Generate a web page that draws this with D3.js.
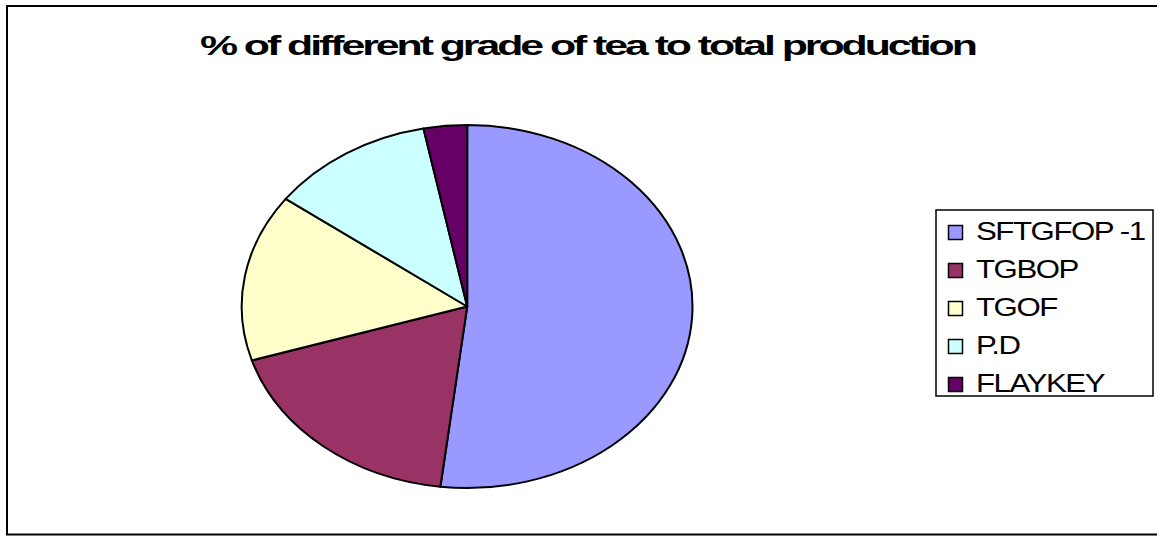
<!DOCTYPE html>
<html>
<head>
<meta charset="utf-8">
<script src="https://cdn.jsdelivr.net/npm/d3@7"></script>
<style>
  html, body { margin: 0; padding: 0; background: #fff; }
  svg { display: block; }
  text { font-family: Arial, "Liberation Sans", sans-serif; }
</style>
</head>
<body>
<svg id="chart" width="1157" height="536"></svg>
<script>
// Share of each tea grade in total production (%)
const grades = ["SFTGFOP -1", "TGBOP", "TGOF", "P.D", "FLAYKEY"];
const shares = [51.9, 18.3, 14.9, 11.8, 3.1];
const colors = ["#9999FF", "#993366", "#FFFFCC", "#CCFFFF", "#660066"];
const title = "% of different grade of tea to total production";

const svg = d3.select("#chart");

// outer chart frame (right edge runs off the page)
svg.append("rect")
  .attr("x", 7).attr("y", 6)
  .attr("width", 1170).attr("height", 528.5)
  .attr("fill", "#fff").attr("stroke", "#000").attr("stroke-width", 2);

// title: wide, tightly packed bold glyphs
const t = svg.append("text")
  .attr("font-size", 28).attr("font-weight", "bold")
  .attr("letter-spacing", -2)
  .text(title);
const tw = t.node().getComputedTextLength();
const titleW = 775, titleCx = 587.5;
t.attr("transform", `translate(${titleCx - titleW / 2},55) scale(${titleW / tw},1)`);

// pie, drawn as an ellipse
const cx = 467.2, cy = 306.5, rx = 225.5, ry = 181.5;
const pie = d3.pie().sort(null).value(d => d)(shares);
const arc = d3.arc().innerRadius(0).outerRadius(1);
const colorScale = d3.scaleOrdinal().domain(grades).range(colors);

svg.append("g")
  .attr("transform", `translate(${cx},${cy}) scale(${rx},${ry})`)
  .selectAll("path")
  .data(pie)
  .join("path")
  .attr("d", arc)
  .attr("fill", (d, i) => colorScale(grades[i]))
  .attr("stroke", "#000")
  .attr("stroke-width", 2)
  .attr("stroke-linejoin", "round")
  .attr("vector-effect", "non-scaling-stroke");

// legend
const lg = svg.append("g");
lg.append("rect")
  .attr("x", 936).attr("y", 210)
  .attr("width", 217).attr("height", 186)
  .attr("fill", "#fff").attr("stroke", "#000").attr("stroke-width", 1.5);

const rowY = d3.scalePoint().domain(grades).range([232, 384]);
const rows = lg.selectAll("g.item").data(grades).join("g")
  .attr("class", "item")
  .attr("transform", d => `translate(0,${rowY(d)})`);

rows.append("rect")
  .attr("x", 948.5).attr("y", -6.5)
  .attr("width", 14).attr("height", 14)
  .attr("fill", d => colorScale(d))
  .attr("stroke", "#000").attr("stroke-width", 1.5);

rows.append("text")
  .attr("transform", "translate(976,7.5) scale(1.2,1)")
  .attr("font-size", 26)
  .attr("letter-spacing", -1.2)
  .text(d => d);
</script>
</body>
</html>
